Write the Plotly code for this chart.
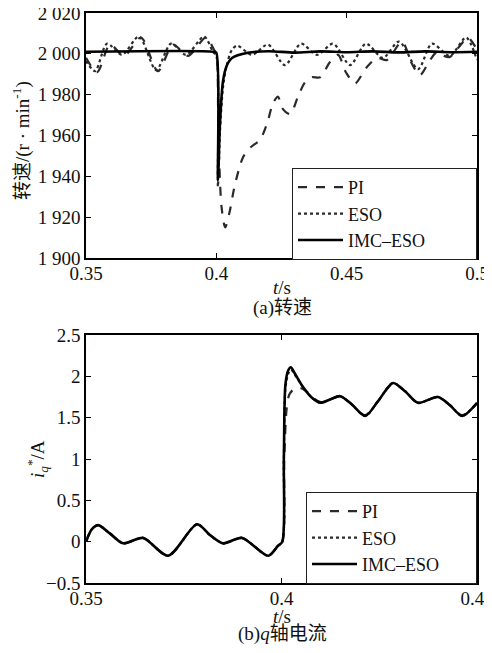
import plotly.graph_objects as go

# ---------------- (a) speed ----------------
t_pi_a = [0.3500, 0.3543, 0.3592, 0.3646, 0.3711, 0.3776, 0.3834, 0.3891, 0.3960, 0.3991,
          0.4000, 0.4008, 0.4020, 0.4034, 0.4050, 0.4068, 0.4088, 0.4103, 0.4130, 0.4168,
          0.4195, 0.4218, 0.4237, 0.4252, 0.4283, 0.4313, 0.4340, 0.4367, 0.4398, 0.4436,
          0.4467, 0.4497, 0.4532, 0.4574, 0.4616, 0.4655, 0.4712, 0.4751, 0.4781, 0.4820,
          0.4847, 0.4873, 0.4896, 0.4935, 0.4965, 0.5000]
v_pi_a = [1998.0, 1991.0, 2004.5, 1999.0, 2008.0, 1991.5, 2004.5, 1999.0, 2008.0, 2002.0,
          2000.0, 1960.0, 1925.0, 1915.0, 1922.0, 1934.0, 1944.0, 1949.5, 1954.0, 1958.0,
          1966.0, 1976.0, 1979.0, 1973.5, 1970.5, 1979.0, 1986.0, 1988.5, 1988.5, 1996.0,
          1999.5, 1991.0, 1985.5, 1993.0, 1998.0, 1997.0, 2006.0, 1995.0, 1989.5, 1997.0,
          2001.0, 1999.0, 1998.5, 2004.0, 2008.0, 2002.0]

t_eso_a = [0.3500, 0.3535, 0.3581, 0.3638, 0.3703, 0.3769, 0.3826, 0.3884, 0.3953, 0.3987,
           0.4000, 0.4006, 0.4014, 0.4026, 0.4041, 0.4060, 0.4080, 0.4137, 0.4198, 0.4263,
           0.4325, 0.4386, 0.4448, 0.4513, 0.4574, 0.4639, 0.4701, 0.4774, 0.4827, 0.4896,
           0.4958, 0.5000]
v_eso_a = [1996.5, 1991.5, 2005.0, 1999.5, 2008.5, 1992.0, 2005.0, 1999.5, 2008.5, 2001.0,
           1999.0, 1935.0, 1962.0, 1984.0, 1995.0, 2002.0, 2004.0, 1999.5, 2004.5, 1994.5,
           2005.0, 1999.5, 2005.0, 1994.5, 2005.0, 1998.0, 2006.0, 1992.5, 2005.0, 1999.0,
           2008.0, 1997.0]

t_imc_a = [0.3500, 0.3990, 0.4000, 0.4006, 0.4014, 0.4026, 0.4041, 0.4060, 0.4121, 0.4200,
           0.4300, 0.4400, 0.4500, 0.4600, 0.4700, 0.4800, 0.4900, 0.5000]
v_imc_a = [2001.0, 2001.0, 2000.5, 1938.0, 1966.0, 1987.0, 1994.5, 1998.0, 2000.5, 2001.3,
           2000.6, 2001.2, 2000.8, 2001.2, 2000.7, 2001.2, 2000.8, 2001.0]

yticks_a = [1900, 1920, 1940, 1960, 1980, 2000, 2020]
ytext_a = ["1 900", "1 920", "1 940", "1 960", "1 980", "2 000", "2 020"]
xticks_a = [0.35, 0.40, 0.45, 0.50]
xtext_a = ["0.35", "0.4", "0.45", "0.5"]

# ---------------- (b) q-axis current ----------------
t_imc_b = [0.3500, 0.3515, 0.3531, 0.3561, 0.3595, 0.3646, 0.3710, 0.3784, 0.3817, 0.3850,
           0.3899, 0.3966, 0.3991, 0.4002, 0.4006, 0.4010, 0.4017, 0.4024, 0.4037, 0.4055,
           0.4078, 0.4099, 0.4124, 0.4150, 0.4180, 0.4214, 0.4247, 0.4285, 0.4316, 0.4349,
           0.4400, 0.4431, 0.4462, 0.4500]
v_imc_b = [0.00, 0.15, 0.20, 0.10, -0.02, 0.045, -0.17, 0.21, 0.08, -0.02,
           0.045, -0.17, -0.05, 0.00, 1.00, 1.90, 2.07, 2.11, 2.01, 1.87,
           1.74, 1.68, 1.72, 1.76, 1.66, 1.52, 1.70, 1.92, 1.82, 1.68,
           1.75, 1.65, 1.52, 1.68]

t_pi_b = [0.3500, 0.3515, 0.3531, 0.3561, 0.3595, 0.3646, 0.3710, 0.3784, 0.3817, 0.3850,
          0.3899, 0.3966, 0.3991, 0.4002, 0.4007, 0.4013, 0.4020, 0.4033, 0.4048, 0.4063,
          0.4078, 0.4099, 0.4124, 0.4150, 0.4180, 0.4214, 0.4247, 0.4285, 0.4316, 0.4349,
          0.4400, 0.4431, 0.4462, 0.4500]
v_pi_b = [0.00, 0.15, 0.20, 0.10, -0.02, 0.045, -0.17, 0.21, 0.08, -0.02,
          0.045, -0.17, -0.05, 0.00, 1.00, 1.60, 1.78, 1.85, 1.86, 1.82,
          1.75, 1.69, 1.72, 1.76, 1.66, 1.53, 1.70, 1.91, 1.82, 1.68,
          1.75, 1.65, 1.53, 1.67]

t_eso_b = t_imc_b
v_eso_b = [0.00, 0.15, 0.20, 0.10, -0.02, 0.045, -0.17, 0.21, 0.08, -0.02,
           0.045, -0.17, -0.05, 0.00, 1.00, 1.85, 2.03, 2.08, 2.00, 1.87,
           1.74, 1.68, 1.72, 1.76, 1.66, 1.52, 1.70, 1.92, 1.82, 1.68,
           1.75, 1.65, 1.52, 1.68]

yticks_b = [-0.5, 0, 0.5, 1, 1.5, 2, 2.5]
ytext_b = ["\u22120.5", "0", "0.5", "1", "1.5", "2", "2.5"]
xticks_b = [0.35, 0.40, 0.45]
xtext_b = ["0.35", "0.4", "0.45"]

names = ["PI", "ESO", "IMC\u2013ESO"]

# page body has an 8px margin: figure is placed at (8, 8)
OFF = 8
W, H = 492 - OFF, 653 - 2 * OFF
FONT = "Liberation Serif, Noto Sans CJK SC, serif"

def px(x):
    return (x - OFF) / W

def py(y):
    return 1 - (y - OFF) / H

fig = go.Figure()

styles = [dict(color="#2a2a2a", width=2.2, dash="dash"),
          dict(color="#2a2a2a", width=2.2, dash="dot"),
          dict(color="#000000", width=2.6)]

for (tt, vv), st, nm in zip([(t_pi_a, v_pi_a), (t_eso_a, v_eso_a), (t_imc_a, v_imc_a)], styles, names):
    fig.add_trace(go.Scatter(x=tt, y=vv, mode="lines", name=nm + "\u00a0" * 10,
                             line=dict(shape="spline", smoothing=0.8, **st),
                             xaxis="x", yaxis="y", legend="legend"))

for (tt, vv), st, nm in zip([(t_pi_b, v_pi_b), (t_eso_b, v_eso_b), (t_imc_b, v_imc_b)], styles, names):
    fig.add_trace(go.Scatter(x=tt, y=vv, mode="lines", name=nm + "\u00a0" * 7,
                             line=dict(shape="spline", smoothing=0.8, **st),
                             xaxis="x2", yaxis="y2", legend="legend2"))

axis_common = dict(showline=True, linecolor="black", linewidth=1.5, mirror="ticks",
                   ticks="inside", ticklen=5, tickcolor="black", tickwidth=1,
                   showgrid=False, zeroline=False, automargin=False,
                   ticklabeloverflow="allow",
                   tickfont=dict(family=FONT, size=19, color="#111"))

legend_common = dict(bgcolor="white", bordercolor="#222", borderwidth=1,
                     font=dict(family=FONT, size=18, color="#111"),
                     xanchor="left", yanchor="top", tracegroupgap=0, itemwidth=45)

fig.update_layout(
    width=W, height=H, margin=dict(l=0, r=0, t=0, b=0, autoexpand=False),
    paper_bgcolor="white", plot_bgcolor="white", showlegend=True,
    xaxis=dict(domain=[px(86), px(477)], range=[0.35, 0.5], tickvals=xticks_a, ticktext=xtext_a,
               anchor="y", ticklabelstandoff=-3, **axis_common),
    yaxis=dict(domain=[py(258), py(13)], range=[1900, 2020], tickvals=yticks_a, ticktext=ytext_a,
               anchor="x", **axis_common),
    xaxis2=dict(domain=[px(86), px(477)], range=[0.35, 0.45], tickvals=xticks_b, ticktext=xtext_b,
                anchor="y2", ticklabelstandoff=-3, **axis_common),
    yaxis2=dict(domain=[py(583), py(335)], range=[-0.5, 2.5], tickvals=yticks_b, ticktext=ytext_b,
                anchor="x2", **axis_common),
    legend=dict(x=px(292), y=py(168), **legend_common),
    legend2=dict(x=px(306), y=py(492), **legend_common),
)

ann_font = dict(family=FONT, size=19, color="#111")
annotations = [
    dict(x=px(282), y=py(287), text="<i>t</i>/s"),
    dict(x=px(282), y=py(308), text="(a)转速"),
    dict(x=px(282), y=py(616), text="<i>t</i>/s"),
    dict(x=px(282), y=py(634), text="(b)<i>q</i>轴电流"),
    dict(x=px(21), y=py(141), text="转速/(r · min<sup>-1</sup>)", textangle=-90),
    dict(x=px(37), y=py(459), text="<i>i</i><sub><i>q</i></sub><sup>*</sup>/A", textangle=-90),
]
for a in annotations:
    fig.add_annotation(xref="paper", yref="paper", showarrow=False, xanchor="center", yanchor="middle",
                       font=ann_font, **a)

fig.write_html("out.html")
